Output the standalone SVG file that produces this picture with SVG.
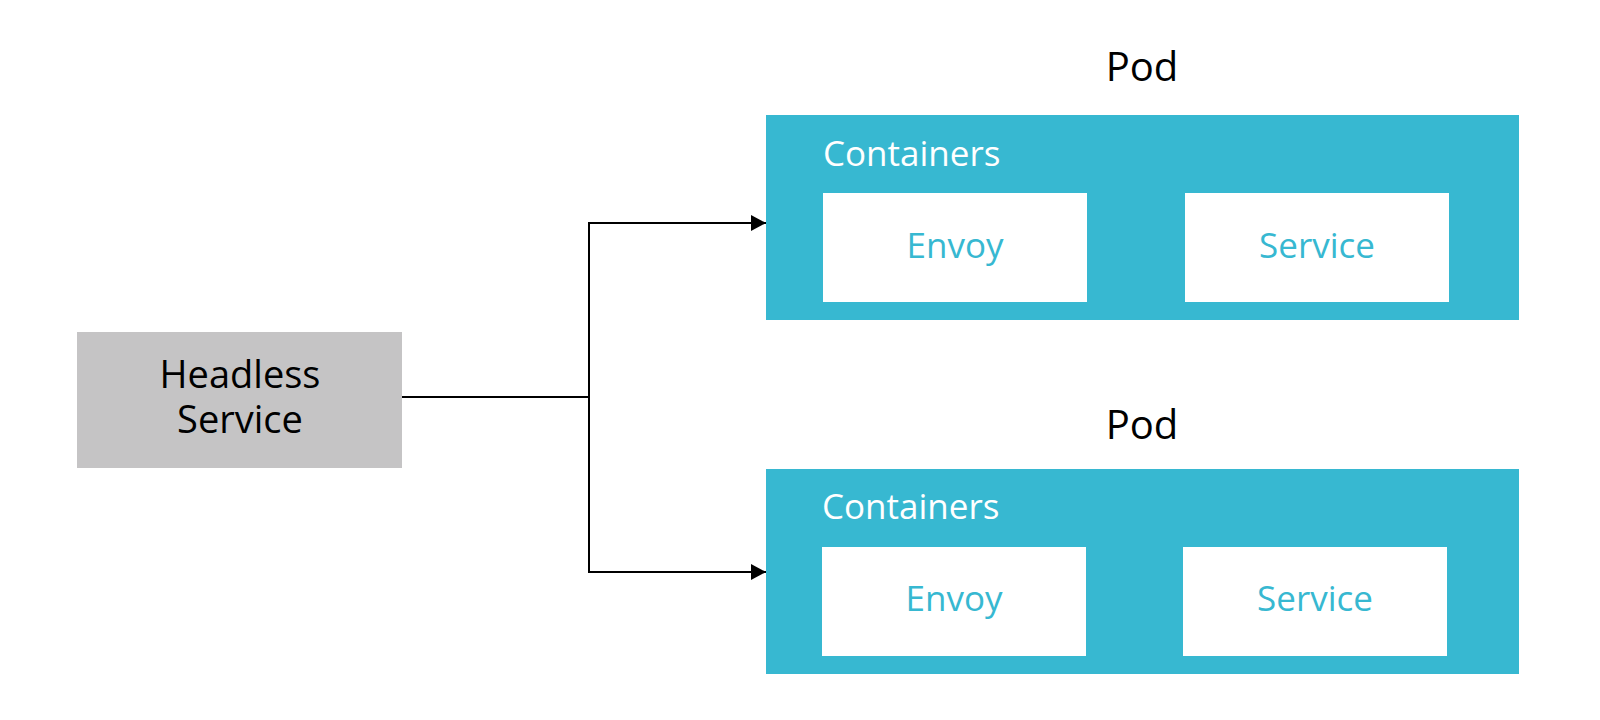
<svg xmlns="http://www.w3.org/2000/svg" width="1600" height="720" viewBox="0 0 1600 720">
<style>
text{font-family:"Open Sans","Noto Sans","Liberation Sans",sans-serif;}
.pod{fill:#37b8d1;}
.inner{fill:#ffffff;}
.hl{font-size:38px;fill:#000;text-anchor:middle;}
.podl{font-size:40px;fill:#000;text-anchor:middle;}
.cont{font-size:35px;fill:#ffffff;}
.in{font-size:35px;fill:#37b8d1;text-anchor:middle;}
.conn{fill:none;stroke:#000;stroke-width:2;}
</style>
<defs>
<marker id="arr" viewBox="0 0 15 16" refX="15" refY="8" markerWidth="15" markerHeight="16" markerUnits="userSpaceOnUse" orient="auto">
<path d="M0,0 L15,8 L0,16 Z" fill="#000"/>
</marker>
</defs>
<rect width="1600" height="720" fill="#ffffff"/>
<g id="headless">
<rect x="77" y="332" width="325" height="136" fill="#c5c4c5"/>
<text class="hl" x="240" y="388">Headless</text>
<text class="hl" x="240" y="433">Service</text>
</g>
<g id="pod1">
<text class="podl" x="1142" y="81">Pod</text>
<rect class="pod" x="766" y="115" width="753" height="205"/>
<text class="cont" x="823" y="166">Containers</text>
<g id="pod1-envoy">
<rect class="inner" x="823" y="193" width="264" height="109"/>
<text class="in" x="955" y="258">Envoy</text>
</g>
<g id="pod1-service">
<rect class="inner" x="1185" y="193" width="264" height="109"/>
<text class="in" x="1317" y="258">Service</text>
</g>
</g>
<g id="pod2">
<text class="podl" x="1142" y="439">Pod</text>
<rect class="pod" x="766" y="469" width="753" height="205"/>
<text class="cont" x="822" y="519">Containers</text>
<g id="pod2-envoy">
<rect class="inner" x="822" y="547" width="264" height="109"/>
<text class="in" x="954" y="611">Envoy</text>
</g>
<g id="pod2-service">
<rect class="inner" x="1183" y="547" width="264" height="109"/>
<text class="in" x="1315" y="611">Service</text>
</g>
</g>
<g id="connectors">
<path class="conn" d="M402,397 H589"/>
<path class="conn" d="M589,397 V223 H766" marker-end="url(#arr)"/>
<path class="conn" d="M589,397 V572 H766" marker-end="url(#arr)"/>
</g>
</svg>
